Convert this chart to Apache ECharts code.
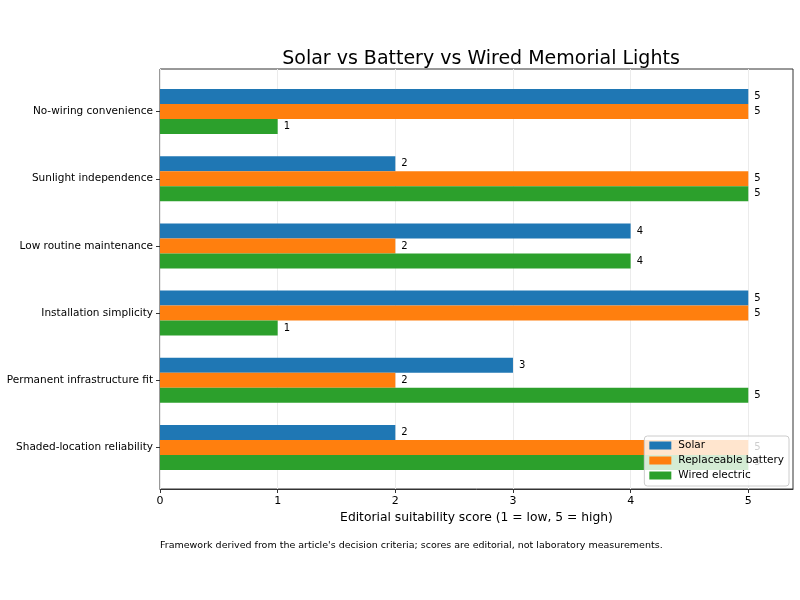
<!DOCTYPE html>
<html>
<head>
<meta charset="utf-8">
<script src="https://cdn.jsdelivr.net/npm/echarts@6/dist/echarts.min.js"></script>
<style>
  html, body { margin: 0; padding: 0; background: #fff; }
  #main { width: 800px; height: 600px; }
</style>
</head>
<body>
<div id="main"></div>
<script>
// criteria, top to bottom
const criteria = [
  'No-wiring convenience',
  'Sunlight independence',
  'Low routine maintenance',
  'Installation simplicity',
  'Permanent infrastructure fit',
  'Shaded-location reliability'
]
const solar = [5, 2, 4, 5, 3, 2]
const battery = [5, 5, 2, 5, 2, 5]
const wired = [1, 5, 4, 1, 5, 5]
const xTicks = [0, 1, 2, 3, 4, 5]

const font = 'DejaVu Sans'
const chart = echarts.init(document.getElementById('main'))

function barSeries(name, data, color) {
  return {
    name: name,
    type: 'bar',
    xAxisIndex: 1,
    yAxisIndex: 1,
    barWidth: 15,
    barGap: '0%',
    itemStyle: { color: color },
    label: {
      show: true,
      position: 'right',
      distance: 6,
      fontSize: 10,
      fontFamily: font,
      color: '#000'
    },
    data: data
  }
}

const option = {
  animation: false,
  textStyle: { fontFamily: font },
  title: {
    text: 'Solar vs Battery vs Wired Memorial Lights',
    left: 476,
    textAlign: 'center',
    top: 45,
    textStyle: { fontSize: 19, fontWeight: 'normal', color: '#000', fontFamily: font }
  },
  legend: {
    orient: 'vertical',
    right: 11,
    bottom: 114,
    itemWidth: 22,
    itemHeight: 8,
    itemGap: 4,
    icon: 'rect',
    padding: [4, 5, 5, 5],
    backgroundColor: 'rgba(255,255,255,0.8)',
    borderColor: '#ccc',
    borderWidth: 1,
    borderRadius: 3,
    textStyle: { fontSize: 10.5, color: '#000', fontFamily: font, padding: [0, 0, 0, 2] },
    data: ['Solar', 'Replaceable battery', 'Wired electric']
  },
  grid: [
    // outer frame
    { left: 160, right: 7, top: 69, bottom: 111, outerBoundsMode: 'none', show: true, borderColor: '#333', borderWidth: 1, backgroundColor: 'transparent' },
    // bar area
    { left: 160, right: 7, top: 78, bottom: 119, outerBoundsMode: 'none' }
  ],
  xAxis: [
    {
      type: 'value',
      gridIndex: 0,
      min: 0,
      max: 5.38,
      interval: 1,
      axisLine: { show: true, lineStyle: { color: '#333' } },
      axisTick: { show: true, length: 4, lineStyle: { color: '#333' }, customValues: xTicks },
      axisLabel: { fontSize: 11, color: '#000', margin: 7, customValues: xTicks },
      splitLine: { show: true, lineStyle: { color: '#ebebeb' } },
      name: 'Editorial suitability score (1 = low, 5 = high)',
      nameLocation: 'middle',
      nameGap: 23,
      nameTextStyle: { fontSize: 12.3, color: '#000', fontFamily: font }
    },
    {
      type: 'value',
      gridIndex: 1,
      min: 0,
      max: 5.38,
      show: false
    }
  ],
  yAxis: [
    { type: 'category', gridIndex: 0, show: false, data: criteria },
    {
      type: 'category',
      gridIndex: 1,
      inverse: true,
      data: criteria,
      axisLine: { show: false },
      axisTick: { show: true, alignWithLabel: true, length: 4, lineStyle: { color: '#333' } },
      axisLabel: { fontSize: 10.5, color: '#000', margin: 7 }
    }
  ],
  series: [
    barSeries('Solar', solar, '#1f77b4'),
    barSeries('Replaceable battery', battery, '#ff7f0e'),
    barSeries('Wired electric', wired, '#2ca02c')
  ],
  graphic: [
    {
      type: 'text',
      left: 160,
      top: 541,
      style: {
        text: "Framework derived from the article's decision criteria; scores are editorial, not laboratory measurements.",
        fontSize: 9.5,
        fontFamily: font,
        fill: '#000'
      }
    }
  ]
}

chart.setOption(option)
</script>
</body>
</html>
